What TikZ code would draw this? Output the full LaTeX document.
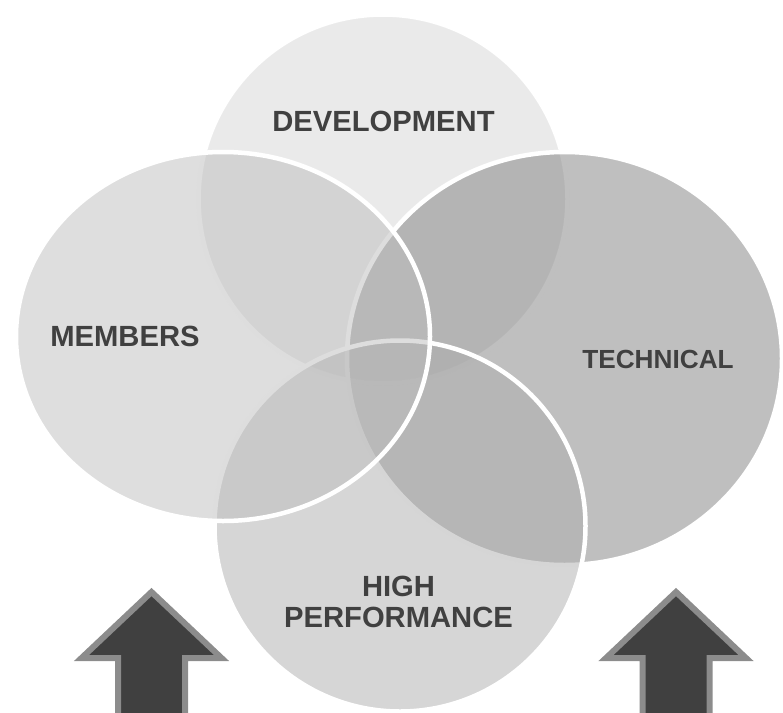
\documentclass[tikz,border=0pt]{standalone}
\usepackage{fontspec}
\setmainfont{Liberation Sans}
\definecolor{textgray}{HTML}{404040}
\definecolor{arrowrim}{HTML}{8C8C8C}
\begin{document}
\begin{tikzpicture}[x=1pt,y=-1pt,
    venn/.style={draw=white, line width=4.5pt, fill opacity=0.5},
    venntext/.style={text=textgray, font=\bfseries\fontsize{29.2}{31}\selectfont, inner sep=0pt, align=center},
    uparrow/.style={fill=textgray, draw=arrowrim, line width=6pt, line join=miter}]
    \useasboundingbox (0,0) rectangle (783,712);
    \clip (0,0) rectangle (783,712);
    % four overlapping sets
    \draw[venn, fill=black!16] (383,199) circle [radius=184.5];
    \draw[venn, fill=black!50] (564.5,358.5) ellipse [x radius=217.5, y radius=206.5];
    \draw[venn, fill=black!32] (400,526) circle [radius=185.5];
    \draw[venn, fill=black!26] (223,336.5) ellipse [x radius=207, y radius=184.5];
    % labels
    \node[venntext, anchor=base] (dev) at (383.5,131.7) {DEVELOPMENT};
    \node[venntext, anchor=base] (members) at (125,346.5) {MEMBERS};
    \node[venntext, anchor=base, font=\bfseries\fontsize{26.2}{28}\selectfont] (tech) at (658,368) {TECHNICAL};
    \node[venntext] (perf) at (398.5,601.5) {HIGH\\PERFORMANCE};
    % arrows
    \foreach \cx in {151.5,676}
        \draw[uparrow] (\cx,592) -- (\cx+70,658) -- (\cx+33.5,658) -- (\cx+33.5,720)
            -- (\cx-33.5,720) -- (\cx-33.5,658) -- (\cx-70,658) -- cycle;
\end{tikzpicture}
\end{document}
